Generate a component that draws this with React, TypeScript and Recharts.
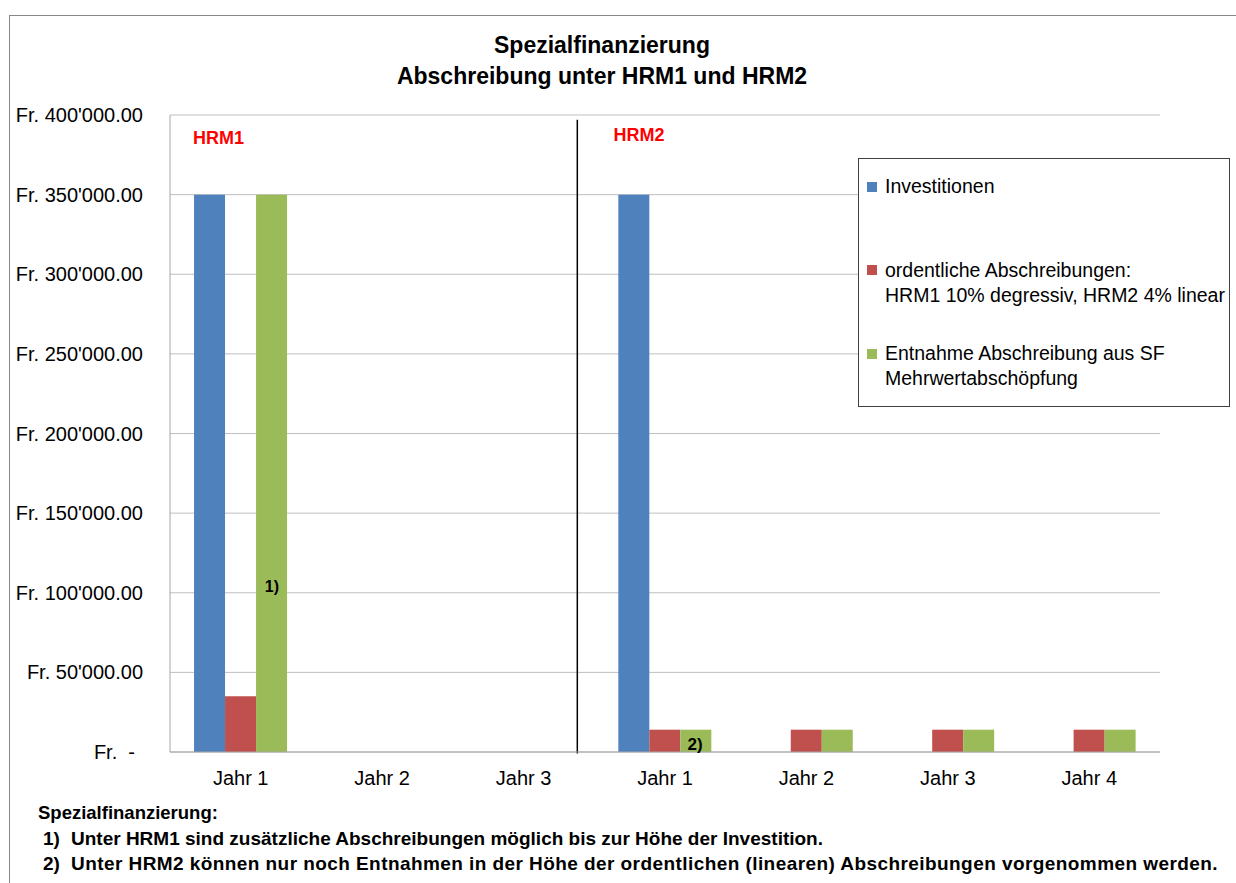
import React from 'react';
import {
  BarChart,
  Bar,
  XAxis,
  YAxis,
  CartesianGrid,
  Legend,
  ReferenceLine,
  ReferenceDot,
} from 'recharts';

const categories = ['Jahr 1', 'Jahr 2', 'Jahr 3', 'Jahr 1', 'Jahr 2', 'Jahr 3', 'Jahr 4'];
const investitionen = [350000, 0, 0, 350000, 0, 0, 0];
const abschreibungen = [35000, 0, 0, 14000, 14000, 14000, 14000];
const entnahme = [350000, 0, 0, 14000, 14000, 14000, 14000];
const yTicks = [0, 50000, 100000, 150000, 200000, 250000, 300000, 350000, 400000];

const seriesNames = [
  'Investitionen',
  'ordentliche Abschreibungen:\nHRM1 10% degressiv, HRM2 4% linear',
  'Entnahme Abschreibung aus SF\nMehrwertabschöpfung',
];
const footnotes = [
  '1)|Unter HRM1 sind zusätzliche Abschreibungen möglich bis zur Höhe der Investition.',
  '2)|Unter HRM2 können nur noch Entnahmen in der Höhe der ordentlichen (linearen) Abschreibungen vorgenommen werden.',
];

const FONT = '"Liberation Sans", Arial, sans-serif';

const data = categories.map((label, i) => ({
  key: String(i),
  label,
  inv: investitionen[i],
  abs: abschreibungen[i],
  ent: entnahme[i],
}));

// hidden helper axis runs 0..6 across the 7 category bands
const toSep = (c: number) => (c * 6) / categories.length;

const formatFr = (v: number) => {
  if (v === 0) return 'Fr.  -';
  const s = String(v).replace(/\B(?=(\d{3})+(?!\d))/g, "'");
  return `Fr. ${s}.00`;
};

const YTick = (props: any) => {
  const { x, y, payload } = props;
  const v = payload.value;
  return (
    <text
      x={v === 0 ? x - 8 : x}
      y={y}
      dy="0.355em"
      textAnchor="end"
      fill="#000"
      fontSize={20}
      style={{ whiteSpace: 'pre' }}
    >
      {formatFr(v)}
    </text>
  );
};

const LegendBox = (props: any) => {
  const payload = [...(props.payload || [])].sort(
    (a: any, b: any) => seriesNames.indexOf(a.value) - seriesNames.indexOf(b.value)
  );
  return (
    <div
      style={{
        width: 372,
        height: 249,
        boxSizing: 'border-box',
        border: '1px solid #404040',
        background: '#fff',
        paddingTop: 15,
        fontFamily: FONT,
        fontSize: 19.5,
        color: '#000',
      }}
    >
      {payload.map((entry: any) => (
        <div key={entry.value} style={{ height: 83.5, position: 'relative' }}>
          <div
            style={{
              position: 'absolute',
              left: 8,
              top: 7.5,
              width: 10,
              height: 10,
              background: entry.color,
            }}
          />
          {String(entry.value)
            .split('\n')
            .map((line: string) => (
              <div key={line} style={{ marginLeft: 26, lineHeight: '25px', whiteSpace: 'nowrap' }}>
                {line}
              </div>
            ))}
        </div>
      ))}
    </div>
  );
};

const noteLabel = (value: string, fill: string, fontSize: number) => ({
  value,
  position: 'center' as const,
  fill,
  fontWeight: 700,
  fontSize,
});

export default function App() {
  return (
    <div
      style={{
        position: 'absolute',
        left: 0,
        top: 0,
        width: 1236,
        height: 883,
        overflow: 'hidden',
        background: '#fff',
        fontFamily: FONT,
      }}
    >
      <div
        style={{
          position: 'absolute',
          left: 9,
          top: 15,
          width: 1400,
          height: 1000,
          border: '1px solid #888',
        }}
      />
      <div
        style={{
          position: 'absolute',
          left: 0,
          top: 30,
          width: 1204,
          textAlign: 'center',
          fontWeight: 700,
          fontSize: 23,
          lineHeight: '31px',
          color: '#000',
        }}
      >
        <div>Spezialfinanzierung</div>
        <div>Abschreibung unter HRM1 und HRM2</div>
      </div>
      <div style={{ position: 'absolute', left: 0, top: 0 }}>
        <BarChart
          width={1236}
          height={883}
          data={data}
          margin={{ top: 115, right: 76, bottom: 101, left: 0 }}
          barCategoryGap="17%"
          barGap={0}
          style={{ fontFamily: FONT }}
        >
          <CartesianGrid vertical={false} stroke="#bfbfbf" />
          <XAxis
            dataKey="key"
            height={30}
            tickFormatter={(v) => categories[Number(v)]}
            tick={{ fill: '#000', fontSize: 20 }}
            tickSize={0}
            tickMargin={19}
            axisLine={{ stroke: '#a6a6a6' }}
            tickLine={false}
          />
          <XAxis xAxisId="sep" type="number" domain={[0, 6]} allowDataOverflow hide />
          <YAxis
            width={170}
            domain={[0, 400000]}
            ticks={yTicks}
            tick={<YTick />}
            tickSize={0}
            tickMargin={27}
            axisLine={{ stroke: '#a6a6a6' }}
            tickLine={false}
            interval={0}
          />
          <Legend
            layout="vertical"
            align="center"
            verticalAlign="middle"
            content={<LegendBox />}
            wrapperStyle={{ left: 858, top: 158, width: 372, height: 249 }}
          />
          <Bar dataKey="inv" name={seriesNames[0]} fill="#4F81BD" isAnimationActive={false} />
          <Bar dataKey="abs" name={seriesNames[1]} fill="#C0504D" isAnimationActive={false} />
          <Bar dataKey="ent" name={seriesNames[2]} fill="#9BBB59" isAnimationActive={false} />
          <ReferenceLine
            xAxisId="sep"
            segment={[
              { x: toSep(2.88), y: 397000 },
              { x: toSep(2.88), y: -1000 },
            ]}
            stroke="#000"
            strokeWidth={1.5}
            ifOverflow="visible"
          />
          <ReferenceDot xAxisId="sep" x={toSep(0.343)} y={386000} r={0} fill="none" stroke="none" ifOverflow="visible" label={noteLabel('HRM1', '#ff0000', 18)} />
          <ReferenceDot xAxisId="sep" x={toSep(3.317)} y={388000} r={0} fill="none" stroke="none" ifOverflow="visible" label={noteLabel('HRM2', '#ff0000', 18)} />
          <ReferenceDot xAxisId="sep" x={toSep(0.721)} y={104000} r={0} fill="none" stroke="none" ifOverflow="visible" label={noteLabel('1)', '#000', 16)} />
          <ReferenceDot xAxisId="sep" x={toSep(3.713)} y={5300} r={0} fill="none" stroke="none" ifOverflow="visible" label={noteLabel('2)', '#000', 17)} />
        </BarChart>
      </div>
      <div
        style={{
          position: 'absolute',
          left: 38,
          top: 800,
          fontWeight: 700,
          fontSize: 18.5,
          lineHeight: '25.5px',
          color: '#000',
          whiteSpace: 'nowrap',
        }}
      >
        <div>Spezialfinanzierung:</div>
        {footnotes.map((f, i) => {
          const [num, text] = f.split('|');
          return (
            <div key={num} style={{ display: 'flex', paddingLeft: 5, fontSize: 19 }}>
              <span style={{ width: 28 }}>{num}</span>
              <span style={{ letterSpacing: i === 1 ? 0.43 : 0 }}>{text}</span>
            </div>
          );
        })}
      </div>
    </div>
  );
}
